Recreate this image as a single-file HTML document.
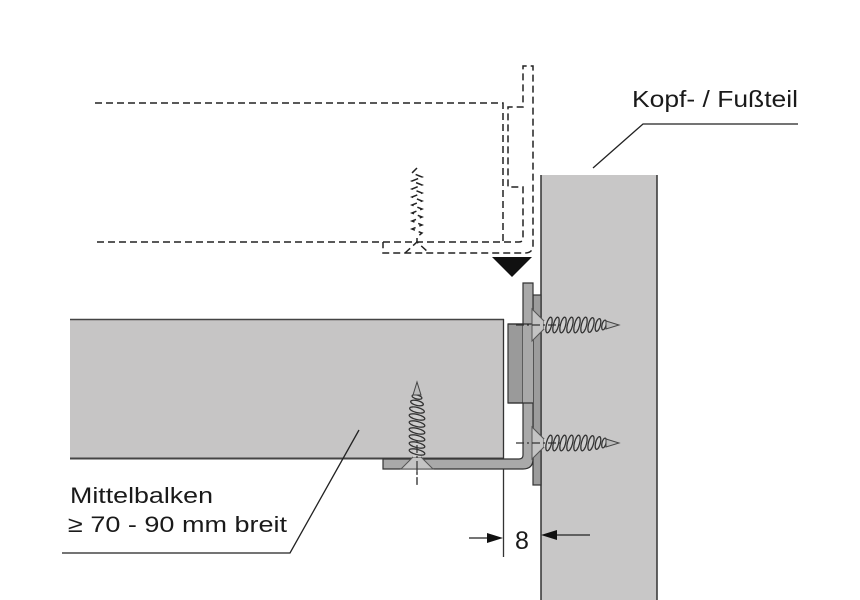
<!DOCTYPE html>
<html><head><meta charset="utf-8"><style>
html,body{margin:0;padding:0;background:#fff;}
svg{display:block;}
text{font-family:"Liberation Sans Narrow","Liberation Sans",sans-serif;fill:#1a1a1a;}
</style></head><body>
<svg width="860" height="600" viewBox="0 0 860 600" xmlns="http://www.w3.org/2000/svg">
<defs>
<g id="screw">
  <polygon points="0,-16 0,16 12,4 12,-4" fill="#c4c4c4" stroke="#555" stroke-width="1"/>
  <rect x="12" y="-4" width="64" height="8" fill="#cfcfcf" stroke="none"/>
  <g fill="none" stroke="#333" stroke-width="1.3">
    <ellipse cx="17" cy="0" rx="2.6" ry="8" transform="rotate(14 17 0)"/>
    <ellipse cx="24" cy="0" rx="2.6" ry="8" transform="rotate(14 24 0)"/>
    <ellipse cx="31" cy="0" rx="2.6" ry="8" transform="rotate(14 31 0)"/>
    <ellipse cx="38" cy="0" rx="2.6" ry="8" transform="rotate(14 38 0)"/>
    <ellipse cx="45" cy="0" rx="2.6" ry="8" transform="rotate(14 45 0)"/>
    <ellipse cx="52" cy="0" rx="2.6" ry="8" transform="rotate(14 52 0)"/>
    <ellipse cx="59" cy="0" rx="2.6" ry="7.5" transform="rotate(14 59 0)"/>
    <ellipse cx="66" cy="0" rx="2.4" ry="6.5" transform="rotate(14 66 0)"/>
    <ellipse cx="72" cy="0" rx="2" ry="5" transform="rotate(14 72 0)"/>
  </g>
  <polygon points="74,-4 87,0 74,4" fill="#bbb" stroke="#444" stroke-width="1"/>
  <line x1="-16" y1="0" x2="30" y2="0" stroke="#333" stroke-width="1.2" stroke-dasharray="8 3 2 3"/>
</g>
</defs>

<!-- Kopf-/Fußteil panel -->
<rect x="541" y="175" width="116" height="425" fill="#c8c7c7"/>
<line x1="541" y1="175" x2="541" y2="600" stroke="#333" stroke-width="1.5"/>
<line x1="657" y1="175" x2="657" y2="600" stroke="#333" stroke-width="1.5"/>

<!-- main beam -->
<rect x="70" y="319" width="434" height="140" fill="#c6c5c5"/>
<line x1="70" y1="319.5" x2="504" y2="319.5" stroke="#444" stroke-width="1.5"/>
<line x1="70" y1="458.5" x2="504" y2="458.5" stroke="#444" stroke-width="2"/>
<line x1="503.5" y1="319" x2="503.5" y2="557" stroke="#333" stroke-width="1.3"/>

<!-- plate -->
<rect x="533" y="295" width="8" height="190" fill="#9c9c9c" stroke="#333" stroke-width="1.2"/>
<!-- bracket -->
<path d="M383,459 H519 Q523,459 523,455 V283 H533 V459 Q533,469 523,469 H383 Z" fill="#a9a9a9" stroke="#333" stroke-width="1.2"/>
<!-- insert -->
<rect x="508" y="324" width="15" height="79" fill="#9a9a9a" stroke="#333" stroke-width="1.2"/>
<rect x="523" y="324" width="10" height="79" fill="#a9a9a9" stroke="none"/>
<line x1="508" y1="324" x2="533" y2="324" stroke="#333" stroke-width="1.2"/>
<line x1="508" y1="403" x2="533" y2="403" stroke="#333" stroke-width="1.2"/>

<!-- screws -->
<use href="#screw" transform="translate(532,325)"/>
<use href="#screw" transform="translate(532,443)"/>
<use href="#screw" transform="translate(417,469) rotate(-90)"/>
<line x1="417" y1="469" x2="417" y2="484" stroke="#333" stroke-width="1.2" stroke-dasharray="6 3"/>

<!-- dashed phantom -->
<g fill="none" stroke="#222" stroke-width="1.5" stroke-dasharray="7 4">
  <path d="M95,103 H503 V242"/>
  <path d="M97,242 H519 Q523,242 523,238 V187 H508 V107 H523 V66 H533 V245 Q533,253 525,253 H383 V242"/>
  <path d="M417,168 l-5,5 10,4 -10,4 10,4 -10,4 10,4 -10,4 10,4 -10,4 10,4 -10,4 10,4 -10,4 10,4 -10,4 10,4 -5,4 V242"/>
  <path d="M405,253 L417,242 L429,253"/>
</g>

<!-- black triangle -->
<polygon points="492,257 532,257 512,277" fill="#111"/>

<!-- leaders -->
<path d="M593,168 L643,124 H798" fill="none" stroke="#222" stroke-width="1.3"/>
<path d="M62,553 H290 L359,430" fill="none" stroke="#222" stroke-width="1.3"/>

<!-- dimension -->
<line x1="469" y1="538" x2="495" y2="538" stroke="#222" stroke-width="1.3"/>
<polygon points="487,533 503,538 487,543" fill="#111"/>
<line x1="550" y1="535" x2="590" y2="535" stroke="#222" stroke-width="1.3"/>
<polygon points="557,530 541,535 557,540" fill="#111"/>
<text x="515" y="549" font-size="25">8</text>

<!-- labels -->
<text x="632" y="107" font-size="23.5" textLength="166" lengthAdjust="spacingAndGlyphs">Kopf- / Fußteil</text>
<text x="70" y="503" font-size="22.5" textLength="143" lengthAdjust="spacingAndGlyphs">Mittelbalken</text>
<text x="68" y="532" font-size="22.5" textLength="219" lengthAdjust="spacingAndGlyphs">≥ 70 - 90 mm breit</text>
</svg>
</body></html>
